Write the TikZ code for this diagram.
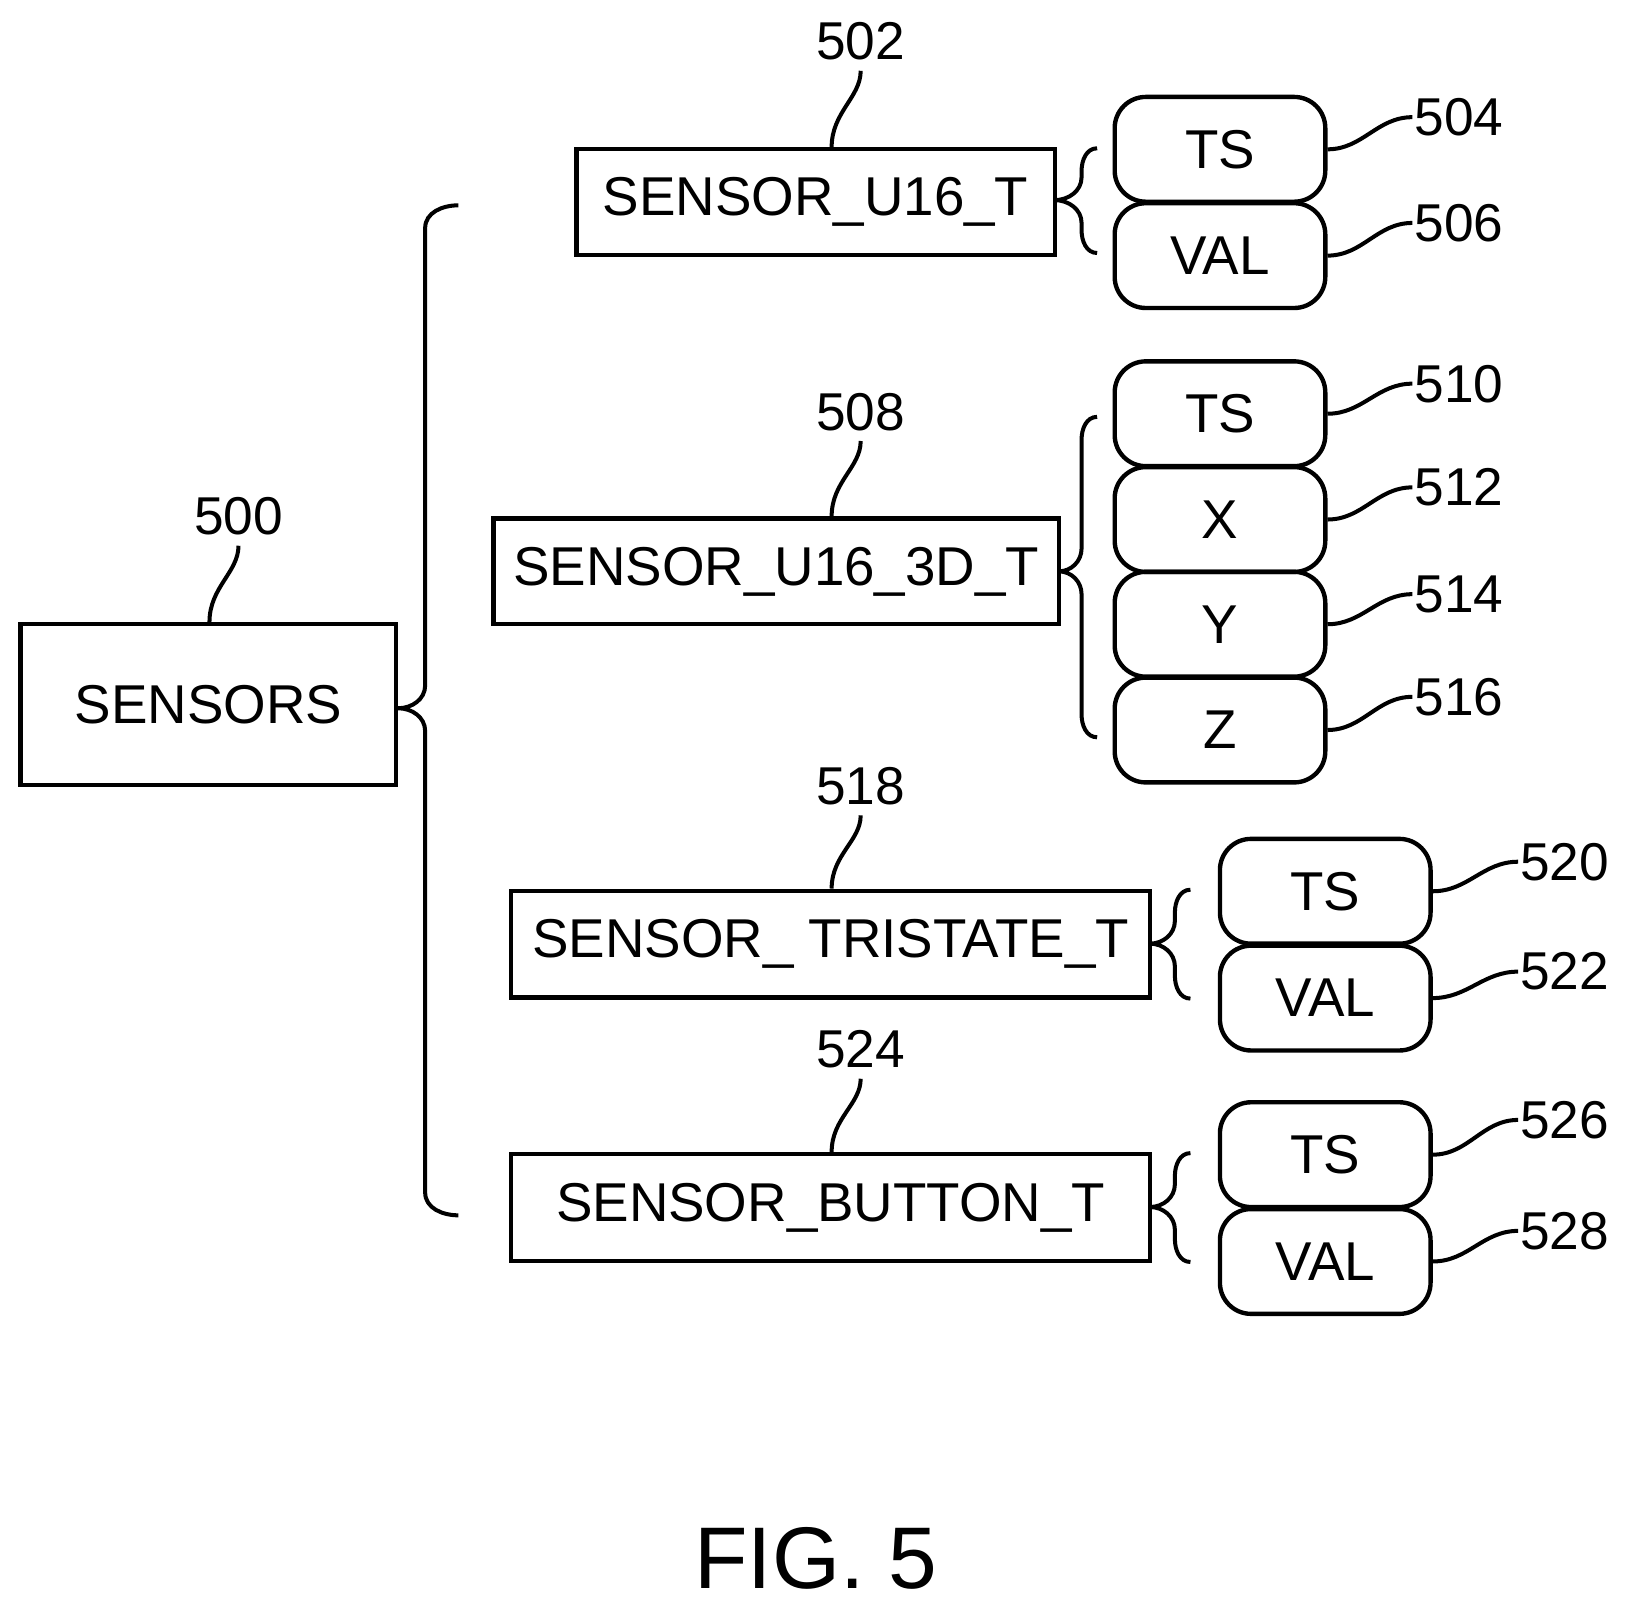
\documentclass[tikz,border=0pt]{standalone}
\usepackage{fontspec}
\setmainfont{Liberation Sans}
\begin{document}
\begin{tikzpicture}[x=0.01cm,y=-0.01cm,line width=1.2pt,
 box/.style={draw,rectangle,inner sep=0pt,font=\fontsize{15}{18}\selectfont},
 fld/.style={draw,rounded corners=0.3cm,minimum width=2.03cm,minimum height=1.01cm,inner sep=0pt,font=\fontsize{15}{18}\selectfont},
 num/.style={inner sep=0pt,font=\fontsize{14.6}{18}\selectfont},
 ld/.style={line width=1.1pt},
 vl/.style={line width=1.1pt,shorten >=0.08cm}]
\useasboundingbox (0,0) rectangle (1569,1555);
\newcommand{\mybrace}[6]{% x, top, tip, bottom, tipx, endx
 \draw[line width=1.1pt] (#6,#2) to[out=180,in=90] (#1,#2+22) -- (#1,#3-22) to[out=-90,in=0] (#5,#3) to[out=0,in=90] (#1,#3+22) -- (#1,#4-22) to[out=-90,in=180] (#6,#4);}
% main
\node[box,minimum width=3.62cm,minimum height=1.55cm] (s) at (201,679.5) {SENSORS};
\node[num] (l500) at (230,498) {500};
\draw[vl] (s.north -| l500.south) ++(-28,0) to[out=90,in=-90] (l500.south);
\mybrace{410}{198}{683}{1172}{384}{442}
% U16
\node[box,minimum width=4.61cm,minimum height=1.02cm] (a) at (786.5,195) {SENSOR\_U16\_T};
\node[num] (l502) at (830,40) {502};
\draw[vl] (a.north -| l502.south) ++(-28,0) to[out=90,in=-90] (l502.south);
\mybrace{1043}{143}{193}{244}{1017}{1058}
\node[fld] (a1) at (1176.5,144) {TS};
\node[fld] (a2) at (1176.5,246.5) {VAL};
\node[num,anchor=west] (l504) at (1362,113) {504};
\node[num,anchor=west] (l506) at (1362,215) {506};
\draw[ld] (a1.east) to[out=0,in=180] (l504.west);
\draw[ld] (a2.east) to[out=0,in=180] (l506.west);
% 3D
\node[box,minimum width=5.45cm,minimum height=1.02cm] (b) at (748.5,551) {SENSOR\_U16\_3D\_T};
\node[num] (l508) at (830,397) {508};
\draw[vl] (b.north -| l508.south) ++(-28,0) to[out=90,in=-90] (l508.south);
\mybrace{1043}{402}{551}{711}{1021}{1058}
\node[fld] (b1) at (1176.5,399) {TS};
\node[fld] (b2) at (1176.5,501) {X};
\node[fld] (b3) at (1176.5,602) {Y};
\node[fld] (b4) at (1176.5,704) {Z};
\node[num,anchor=west] (l510) at (1362,370) {510};
\node[num,anchor=west] (l512) at (1362,470) {512};
\node[num,anchor=west] (l514) at (1362,573) {514};
\node[num,anchor=west] (l516) at (1362,672) {516};
\draw[ld] (b1.east) to[out=0,in=180] (l510.west);
\draw[ld] (b2.east) to[out=0,in=180] (l512.west);
\draw[ld] (b3.east) to[out=0,in=180] (l514.west);
\draw[ld] (b4.east) to[out=0,in=180] (l516.west);
% tristate
\node[box,minimum width=6.16cm,minimum height=1.03cm] (c) at (801,910.5) {SENSOR\_ TRISTATE\_T};
\node[num] (l518) at (830,758) {518};
\draw[vl] (c.north -| l518.south) ++(-28,0) to[out=90,in=-90] (l518.south);
\mybrace{1133}{858}{910}{963}{1109}{1148}
\node[fld] (c1) at (1278,859.5) {TS};
\node[fld] (c2) at (1278,962.5) {VAL};
\node[num,anchor=west] (l520) at (1464,831) {520};
\node[num,anchor=west] (l522) at (1464,937) {522};
\draw[ld] (c1.east) to[out=0,in=180] (l520.west);
\draw[ld] (c2.east) to[out=0,in=180] (l522.west);
% button
\node[box,minimum width=6.16cm,minimum height=1.03cm] (d) at (801,1164.5) {SENSOR\_BUTTON\_T};
\node[num] (l524) at (830,1012) {524};
\draw[vl] (d.north -| l524.south) ++(-28,0) to[out=90,in=-90] (l524.south);
\mybrace{1133}{1112}{1164}{1217}{1109}{1148}
\node[fld] (d1) at (1278,1113.5) {TS};
\node[fld] (d2) at (1278,1216.5) {VAL};
\node[num,anchor=west] (l526) at (1464,1080) {526};
\node[num,anchor=west] (l528) at (1464,1187) {528};
\draw[ld] (d1.east) to[out=0,in=180] (l526.west);
\draw[ld] (d2.east) to[out=0,in=180] (l528.west);
\node[num,font=\fontsize{24}{28}\selectfont] (fig) at (787,1503) {FIG. 5};
\end{tikzpicture}
\end{document}
